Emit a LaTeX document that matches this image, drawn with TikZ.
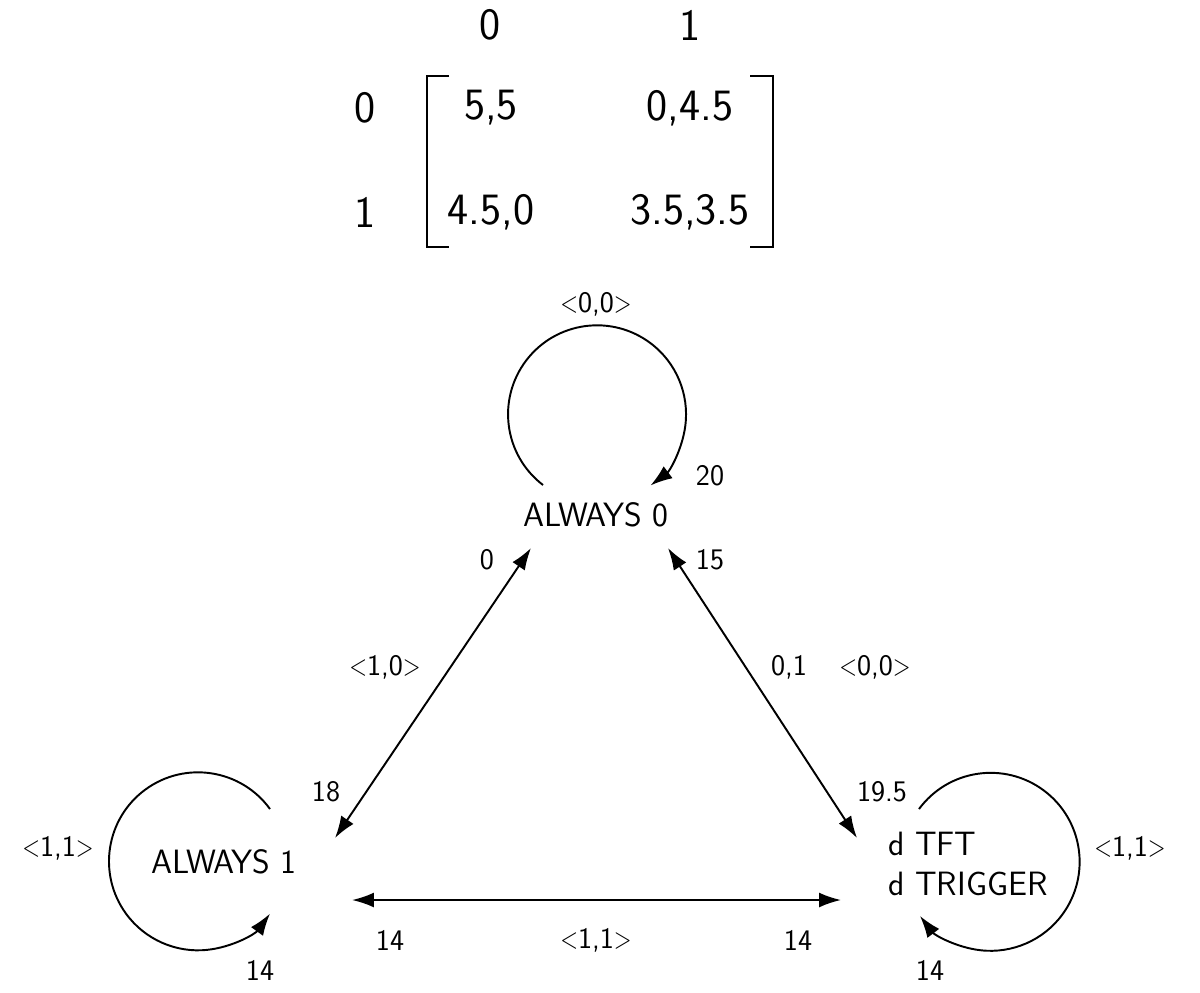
\documentclass[tikz,border=0pt]{standalone}
\usepackage{graphicx}
\usetikzlibrary{arrows.meta}
\newcommand\ltg{\scalebox{0.78}[1]{<}}
\newcommand\gtg{\scalebox{0.78}[1]{>}}
\tikzset{
  lbl/.style={font=\sffamily\fontsize{17}{20}\selectfont, inner sep=0},
  state/.style={font=\sffamily\fontsize{19.2}{23}\selectfont, inner sep=0, align=left},
  mat/.style={font=\sffamily\fontsize{25.5}{30}\selectfont, inner sep=0},
  arr/.style={line width=1.1pt, -{Latex[length=12.5pt,width=8.5pt]}},
  darr/.style={line width=1.1pt, {Latex[length=12.5pt,width=8.5pt]}-{Latex[length=12.5pt,width=8.5pt]}},
  brk/.style={line width=1.1pt}
}
\begin{document}
\begin{tikzpicture}[x=0.02cm,y=-0.02cm]
\useasboundingbox (0,0) rectangle (1200,992);
% matrix
\node[mat] (c0) at (490,25) {0};
\node[mat] (c1) at (690,25) {1};
\node[mat] (r0) at (365,108) {0};
\node[mat] (r1) at (365,212) {1};
\node[mat] (m00) at (491,108) {5,5};
\node[mat] (m01) at (690,108) {0,4.5};
\node[mat] (m10) at (491,212) {4.5,0};
\node[mat] (m11) at (690,212) {3.5,3.5};
\draw[brk] (449,76) -- (427,76) -- (427,247) -- (449,247);
\draw[brk] (750,76) -- (773,76) -- (773,247) -- (750,247);
% states
\node[state] (a0) at (596,515) {ALWAYS 0};
\node[state] (a1) at (224,862) {ALWAYS 1};
\node[state, anchor=west] (tft) at (888,864) {d TFT\\d TRIGGER};
% loops
\coordinate (l0s) at (543,485);
\draw[arr] (l0s) arc[start angle=127.4, end angle=413.1, radius=89];
\coordinate (l1s) at (270,809);
\draw[arr] (l1s) arc[start angle=-36, end angle=-324, radius=89];
\coordinate (l2s) at (919,809);
\draw[arr] (l2s) arc[start angle=-143.6, end angle=142.6, radius=89];
% edges
\coordinate (e1a) at (531,548);
\coordinate (e1b) at (335,838);
\coordinate (e2a) at (668,548);
\coordinate (e2b) at (857,838);
\coordinate (e3a) at (352,900);
\coordinate (e3b) at (841,900);
\draw[darr] (e1a) -- (e1b);
\draw[darr] (e2a) -- (e2b);
\draw[darr] (e3a) -- (e3b);
% labels
\node[lbl] (t00) at (596,304) {\ltg0,0\gtg};
\node[lbl] (t20) at (710,476) {20};
\node[lbl] (t0) at (487,560) {0};
\node[lbl] (t15) at (710,560) {15};
\node[lbl] (t10) at (385,667) {\ltg1,0\gtg};
\node[lbl] (t01) at (789,667) {0,1};
\node[lbl] (t00b) at (875,667) {\ltg0,0\gtg};
\node[lbl] (t18) at (326,792) {18};
\node[lbl] (t195) at (882,792) {19.5};
\node[lbl] (t11a) at (58,848) {\ltg1,1\gtg};
\node[lbl] (t11b) at (1130,848) {\ltg1,1\gtg};
\node[lbl] (t14a) at (390,940) {14};
\node[lbl] (t11c) at (596,940) {\ltg1,1\gtg};
\node[lbl] (t14b) at (798,940) {14};
\node[lbl] (t14c) at (260,970) {14};
\node[lbl] (t14d) at (930,970) {14};
\end{tikzpicture}
\end{document}
